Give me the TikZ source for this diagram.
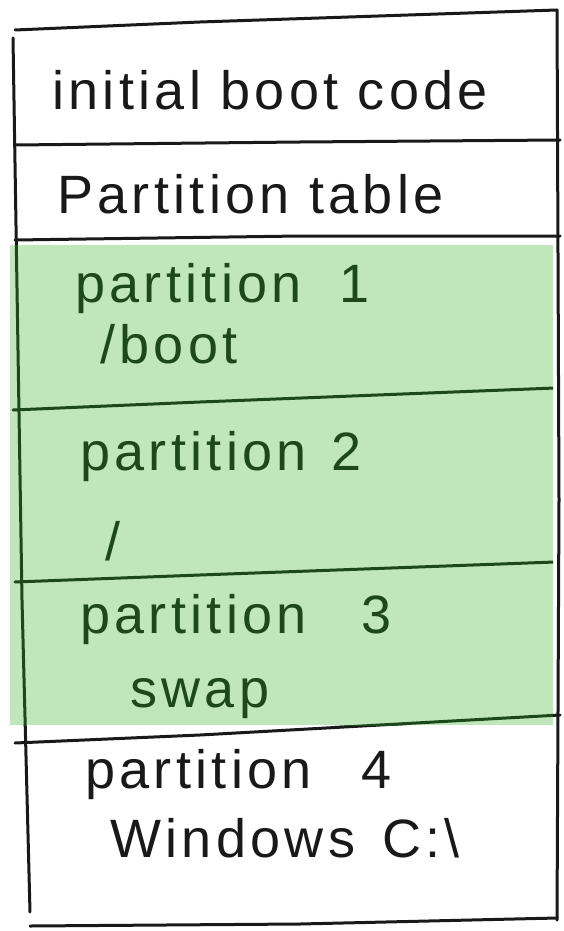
\documentclass[tikz,border=0pt]{standalone}
\usepackage{fontspec}
\setmainfont{Liberation Sans}[LetterSpace=8]
\usepackage{xcolor}
\definecolor{fillgreen}{RGB}{192,230,188}
\definecolor{inkgreen}{RGB}{28,72,28}
\definecolor{ink}{RGB}{25,25,25}

\begin{document}
\begin{tikzpicture}[x=1pt, y=-1pt,
  pen/.style={line width=3pt, line cap=round, line join=round},
  hand/.style={anchor=base west, inner sep=0pt, font=\fontsize{54}{60}\selectfont}]
  \useasboundingbox (0,0) rectangle (564,931);
  % frame and the two header slots
  \draw[pen, ink] (15,30) -- (200,22) -- (557,10) -- (559,500) -- (557,920);
  \draw[pen, ink] (13,38) -- (22,600) -- (30,912);
  \draw[pen, ink] (30,926) -- (300,924) -- (557,918);
  \draw[pen, ink] (15,145) -- (300,142) -- (560,140);
  \draw[pen, ink] (15,240) -- (300,236) -- (560,236);
  \draw[pen, ink] (15,743) -- (200,735) -- (560,715);
  % linux partitions
  \fill[fillgreen] (10,245) rectangle (553,725);
  \begin{scope}
    \clip (10,245) rectangle (553,725);
    \draw[pen, inkgreen] (13,38) -- (22,600) -- (30,912);
    \draw[pen, inkgreen] (13,410) -- (200,402) -- (555,388);
    \draw[pen, inkgreen] (15,582) -- (200,575) -- (555,562);
    \draw[pen, inkgreen] (15,743) -- (200,735) -- (560,715);
  \end{scope}
  % labels
  \node[hand, ink] (boot) at (52,110) {initial boot code};
  \node[hand, ink] (ptable) at (57,213) {Partition table};
  \node[hand, inkgreen] (p1) at (75,302) {partition\hspace{38pt}1};
  \node[hand, inkgreen] (p1mnt) at (100,363) {/boot};
  \node[hand, inkgreen] (p2) at (80,470) {partition\hspace{25pt}2};
  \node[hand, inkgreen] (p2mnt) at (105,560) {/};
  \node[hand, inkgreen] (p3) at (80,633) {partition\hspace{55pt}3};
  \node[hand, inkgreen] (p3mnt) at (130,707) {swap};
  \node[hand, ink] (p4) at (85,788) {partition\hspace{50pt}4};
  \node[hand, ink] (p4mnt) at (110,857) {Windows\hspace{27pt}C:\textbackslash};
\end{tikzpicture}
\end{document}
